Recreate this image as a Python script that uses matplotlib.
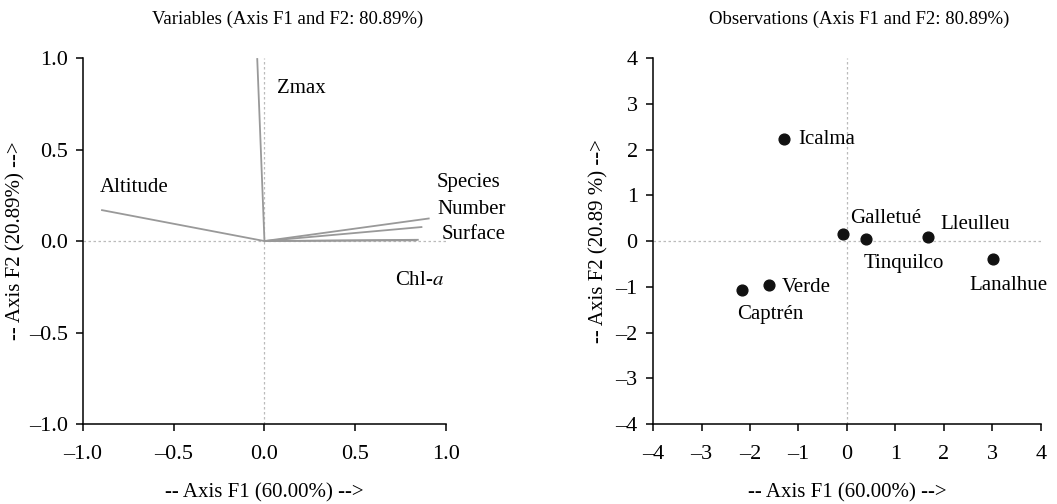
import numpy as np
import matplotlib.pyplot as plt

plt.rcParams['font.family'] = ['Liberation Serif', 'DejaVu Serif']
plt.rcParams['mathtext.fontset'] = 'stix'

# variables (correlation circle)
var_names = ['Zmax', 'Altitude', 'Species', 'Number', 'Surface', 'Chl-$a$']
var_f1 = [-0.04, -0.90, 0.91, 0.87, 0.85, 0.84]
var_f2 = [1.00, 0.17, 0.124, 0.077, 0.007, 0.004]

# observations
obs_names = ['Icalma', 'Galletué', 'Tinquilco', 'Lleulleu', 'Lanalhue', 'Verde', 'Captrén']
obs_f1 = [-1.30, -0.08, 0.39, 1.68, 3.01, -1.61, -2.17]
obs_f2 = [2.23, 0.16, 0.05, 0.09, -0.39, -0.95, -1.06]

fs = 16
lfs = 15

fig = plt.figure(figsize=(10.57, 5.04), dpi=100)
ax1 = fig.add_axes([0.0785, 0.1587, 0.3434, 0.726])
ax2 = fig.add_axes([0.6178, 0.1587, 0.367, 0.726])

def style(ax):
    for s in ['top', 'right']:
        ax.spines[s].set_visible(False)
    for s in ['left', 'bottom']:
        ax.spines[s].set_linewidth(1.1)
    ax.tick_params(direction='out', length=5, width=1.1, labelsize=fs)
    ax.tick_params(axis='x', pad=10)
    ax.tick_params(axis='y', pad=6)
    ax.axhline(0, color='#bbbbbb', lw=0.9, ls=(0, (2, 2)), zorder=0)
    ax.axvline(0, color='#bbbbbb', lw=0.9, ls=(0, (2, 2)), zorder=0)

# left panel
style(ax1)
for x, y in zip(var_f1, var_f2):
    ax1.plot([0, x], [0, y], color='#999999', lw=1.3, solid_capstyle='butt')
ax1.set_xlim(-1, 1)
ax1.set_ylim(-1, 1)
ax1.set_xticks([-1, -0.5, 0, 0.5, 1])
ax1.set_yticks([-1, -0.5, 0, 0.5, 1])
ax1.set_xticklabels(['\u20131.0', '\u20130.5', '0.0', '0.5', '1.0'])
ax1.set_yticklabels(['\u20131.0', '\u20130.5', '0.0', '0.5', '1.0'])
lab_pos = {'Zmax': (0.07, 0.836), 'Altitude': (-0.906, 0.295),
           'Species': (0.948, 0.32), 'Number': (0.953, 0.175),
           'Surface': (0.975, 0.038), 'Chl-$a$': (0.72, -0.213)}
for n in var_names:
    x, y = lab_pos[n]
    ax1.text(x, y, n, fontsize=lfs, ha='left', va='center', clip_on=False)
ax1.set_xlabel('-- Axis F1 (60.00%) -->', fontsize=lfs, labelpad=14)
ax1.set_ylabel('-- Axis F2 (20.89%) -->', fontsize=lfs, labelpad=2)
fig.text(0.272, 0.962, 'Variables (Axis F1 and F2: 80.89%)', fontsize=13.5, ha='center', va='center')

# right panel
style(ax2)
ax2.scatter(obs_f1, obs_f2, s=60, color='#111111', zorder=3)
ax2.set_xlim(-4, 4)
ax2.set_ylim(-4, 4)
ticks = list(range(-4, 5))
tl = [('\u2013' + str(-t)) if t < 0 else str(t) for t in ticks]
ax2.set_xticks(ticks)
ax2.set_yticks(ticks)
ax2.set_xticklabels(tl)
ax2.set_yticklabels(tl)
obs_lab = {'Icalma': (0.30, 0.0, 'left'),
           'Galletué': (0.15, 0.33, 'left'),
           'Tinquilco': (-0.05, -0.55, 'left'),
           'Lleulleu': (0.25, 0.27, 'left'),
           'Lanalhue': (0.32, -0.58, 'center'),
           'Verde': (0.27, -0.07, 'left'),
           'Captrén': (-0.1, -0.55, 'left')}
for n, x, y in zip(obs_names, obs_f1, obs_f2):
    dx, dy, ha = obs_lab[n]
    ax2.text(x + dx, y + dy, n, fontsize=lfs, ha=ha, va='center')
ax2.set_xlabel('-- Axis F1 (60.00%) -->', fontsize=lfs, labelpad=14)
ax2.set_ylabel('-- Axis F2 (20.89 %) -->', fontsize=lfs, labelpad=5)
fig.text(0.813, 0.962, 'Observations (Axis F1 and F2: 80.89%)', fontsize=13.5, ha='center', va='center')

fig.savefig('out.png', dpi=100)
